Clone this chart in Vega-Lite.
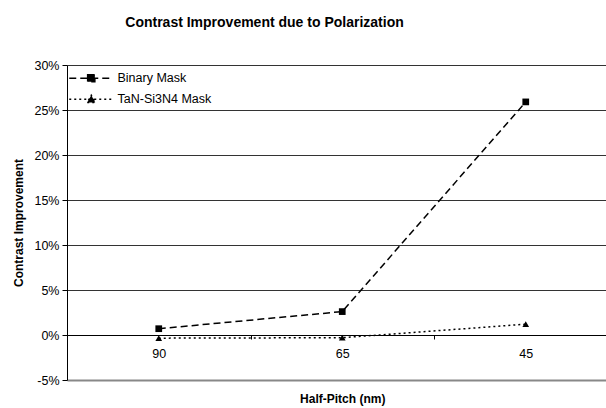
{
  "$schema": "https://vega.github.io/schema/vega-lite/v6.json",
  "autosize": {"type": "none"},
  "padding": {"left": 67, "top": 65, "right": 0, "bottom": 28},
  "width": 539,
  "height": 315,
  "background": "white",
  "config": {
    "font": "Liberation Sans",
    "view": {"stroke": null},
    "axis": {"labelFont": "Liberation Sans", "titleFont": "Liberation Sans", "labelColor": "black", "titleColor": "black"}
  },
  "title": {
    "text": "Contrast Improvement due to Polarization",
    "anchor": "middle",
    "frame": "group",
    "dx": -72,
    "offset": 29,
    "fontSize": 14,
    "fontWeight": "bold",
    "font": "Liberation Sans",
    "color": "black"
  },
  "data": {
    "values": [
      {"hp": "90", "series": "Binary Mask", "v": 0.007},
      {"hp": "65", "series": "Binary Mask", "v": 0.026},
      {"hp": "45", "series": "Binary Mask", "v": 0.259},
      {"hp": "90", "series": "TaN-Si3N4 Mask", "v": -0.0035},
      {"hp": "65", "series": "TaN-Si3N4 Mask", "v": -0.003},
      {"hp": "45", "series": "TaN-Si3N4 Mask", "v": 0.012}
    ]
  },
  "encoding": {
    "x": {
      "field": "hp",
      "type": "nominal",
      "sort": ["90", "65", "45"],
      "scale": {"type": "band", "range": [0, 550.5], "paddingInner": 0, "paddingOuter": 0},
      "axis": {
        "title": "Half-Pitch (nm)",
        "titleFontSize": 12,
        "titleFontWeight": "bold",
        "titlePadding": 34,
        "labelAngle": 0,
        "labelFontSize": 12.5,
        "labelPadding": 8,
        "offset": -45,
        "tickBand": "extent",
        "tickSize": 4,
        "tickColor": "black",
        "domainColor": "black",
        "domainWidth": 1,
        "grid": false
      }
    },
    "y": {
      "field": "v",
      "type": "quantitative",
      "scale": {"domain": [-0.05, 0.3], "nice": false, "zero": false},
      "axis": {
        "title": "Contrast Improvement",
        "titleFontSize": 12,
        "titleFontWeight": "bold",
        "titlePadding": 8,
        "values": [-0.05, 0, 0.05, 0.1, 0.15, 0.2, 0.25, 0.3],
        "labelExpr": "round(datum.value*100) + '%'",
        "labelFontSize": 12.5,
        "labelPadding": 3,
        "tickSize": 5,
        "tickColor": "black",
        "domainColor": "black",
        "domainWidth": 1,
        "grid": true,
        "gridColor": {"condition": {"test": "datum.value < -0.04", "value": "#888888"}, "value": "#333333"},
        "gridWidth": {"condition": {"test": "datum.value < -0.04", "value": 2}, "value": 1},
        "gridOpacity": 1
      }
    }
  },
  "layer": [
    {
      "mark": {"type": "line", "color": "black", "strokeWidth": 1.5},
      "encoding": {
        "strokeDash": {
          "field": "series",
          "type": "nominal",
          "scale": {"domain": ["Binary Mask", "TaN-Si3N4 Mask"], "range": [[7, 4], [2, 3]]},
          "legend": {
            "title": null,
            "orient": "none",
            "legendX": 0,
            "legendY": 7,
            "padding": 0,
            "symbolSize": 64,
            "symbolStrokeWidth": 1.5,
            "symbolStrokeColor": "black",
            "symbolFillColor": "black",
            "labelFontSize": 12.5,
            "labelFont": "Liberation Sans",
            "labelColor": "black",
            "labelOffset": 38,
            "rowPadding": 7,
            "encode": {
              "symbols": {
                "update": {
                  "shape": {"signal": "datum.value === 'Binary Mask' ? 'M-1,0L10,0M3.6,-0.9L5.4,-0.9L5.4,0.9L3.6,0.9Z' : 'M-1,0L10,0M3.5,0.8L5.5,0.8L4.5,-1Z'"},
                  "fill": {"value": "black"},
                  "stroke": {"value": "black"}
                }
              }
            }
          }
        }
      }
    },
    {
      "mark": {"type": "point", "filled": true, "color": "black", "opacity": 1},
      "encoding": {
        "shape": {
          "condition": {"test": "datum.series === 'Binary Mask'", "value": "square"},
          "value": "triangle-up"
        },
        "size": {"value": 45}
      }
    }
  ]
}
